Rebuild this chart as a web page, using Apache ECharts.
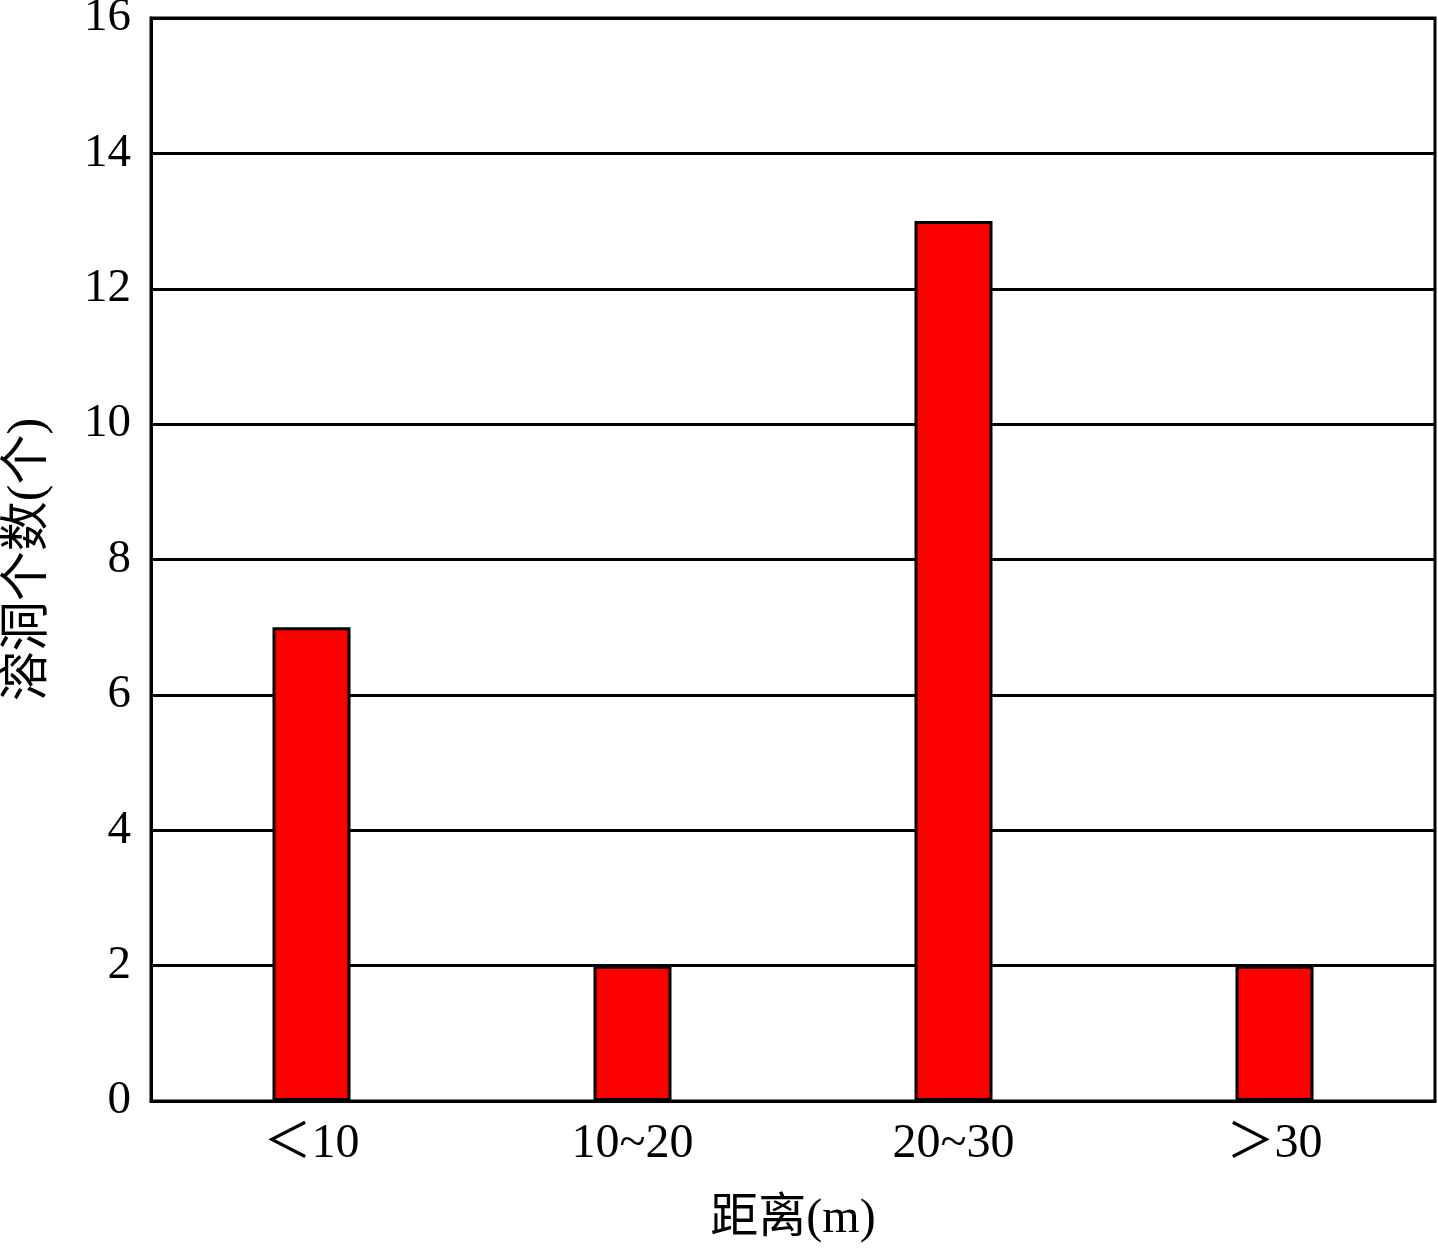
<!DOCTYPE html>
<html>
<head>
<meta charset="utf-8">
<script src="https://cdn.jsdelivr.net/npm/echarts@6/dist/echarts.min.js"></script>
<style>
html,body{margin:0;padding:0;background:#fff;}
#main{width:1438px;height:1248px;}
</style>
</head>
<body>
<div id="main"></div>
<script>
const categories = ['＜10', '10~20', '20~30', '＞30'];
const cavityCounts = [7, 2, 13, 2];
const yTicks = [0, 2, 4, 6, 8, 10, 12, 14, 16];
const xName = '距离(m)';
const yName = '溶洞个数(个)';

const FONT = '"Times New Roman", "Liberation Serif", "Noto Sans CJK SC", serif';

const chart = echarts.init(document.getElementById('main'), null, {renderer: 'canvas'});
chart.setOption({
  backgroundColor: '#ffffff',
  animation: false,
  grid: {
    left: 151, right: 3, top: 18, bottom: 147,
    outerBoundsMode: 'none',
    containLabel: false,
    show: true, borderColor: '#000', borderWidth: 3, backgroundColor: 'transparent'
  },
  xAxis: {
    type: 'category',
    data: categories,
    name: xName,
    nameLocation: 'middle',
    nameGap: 94,
    nameTextStyle: {fontFamily: FONT, fontSize: 48, color: '#000'},
    axisLine: {show: true, lineStyle: {color: '#000', width: 3}},
    axisTick: {show: false},
    axisLabel: {fontFamily: FONT, fontSize: 48, color: '#000', margin: 19}
  },
  yAxis: {
    type: 'value',
    min: yTicks[0],
    max: yTicks[yTicks.length - 1],
    interval: yTicks[1] - yTicks[0],
    name: yName,
    nameLocation: 'middle',
    nameGap: 97,
    nameTextStyle: {fontFamily: FONT, fontSize: 50, color: '#000'},
    axisLine: {show: true, lineStyle: {color: '#000', width: 3}},
    axisTick: {show: false},
    axisLabel: {fontFamily: FONT, fontSize: 47, color: '#000', margin: 20},
    splitLine: {show: true, lineStyle: {color: '#000', width: 3}}
  },
  series: [{
    type: 'bar',
    data: cavityCounts,
    barWidth: 78,
    itemStyle: {color: '#ff0000', borderColor: '#000', borderWidth: 3}
  }]
});
</script>
</body>
</html>
